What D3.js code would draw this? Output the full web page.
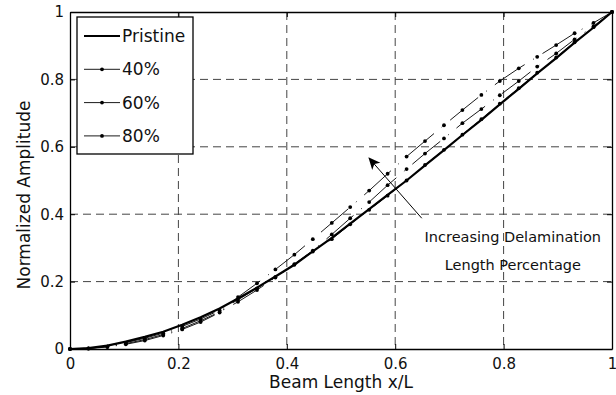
<!DOCTYPE html>
<html>
<head>
<meta charset="utf-8">
<script src="https://cdn.jsdelivr.net/npm/d3@7"></script>
<style>
body { margin: 0; background: #fff; }
</style>
</head>
<body>
<svg class="amp" width="616" height="395"></svg>
<script>
// beam positions (x/L) of the sampled points
let xPos = [0, 0.034, 0.069, 0.103, 0.138, 0.172, 0.207, 0.241, 0.276, 0.310,
    0.345, 0.379, 0.414, 0.448, 0.483, 0.517, 0.552, 0.586, 0.621, 0.655,
    0.690, 0.724, 0.759, 0.793, 0.828, 0.862, 0.897, 0.931, 0.966, 1];

let pristine = [0, 0.003, 0.010, 0.022, 0.036, 0.051, 0.072, 0.094, 0.120, 0.150,
    0.182, 0.215, 0.250, 0.290, 0.330, 0.372, 0.415, 0.457, 0.500, 0.545,
    0.590, 0.635, 0.680, 0.726, 0.772, 0.818, 0.863, 0.909, 0.954, 1];
let pct40 = [0, 0.002, 0.008, 0.019, 0.032, 0.047, 0.067, 0.089, 0.115, 0.146,
    0.180, 0.214, 0.250, 0.289, 0.326, 0.370, 0.413, 0.455, 0.500, 0.546,
    0.591, 0.636, 0.682, 0.728, 0.774, 0.820, 0.865, 0.910, 0.955, 1];
let pct60 = [0, 0.002, 0.007, 0.016, 0.028, 0.043, 0.061, 0.084, 0.110, 0.140,
    0.175, 0.212, 0.252, 0.292, 0.340, 0.388, 0.436, 0.486, 0.534, 0.580,
    0.625, 0.670, 0.712, 0.753, 0.795, 0.838, 0.877, 0.919, 0.958, 1];
let pct80 = [0, 0.001, 0.006, 0.014, 0.025, 0.040, 0.058, 0.080, 0.108, 0.154,
    0.195, 0.236, 0.280, 0.326, 0.374, 0.421, 0.470, 0.520, 0.571, 0.617,
    0.664, 0.709, 0.754, 0.795, 0.833, 0.867, 0.902, 0.937, 0.968, 1];

let seriesNames = ["Pristine", "40%", "60%", "80%"];
let xTicks = [0, 0.2, 0.4, 0.6, 0.8, 1];
let yTicks = [0, 0.2, 0.4, 0.6, 0.8, 1];

// arrow annotation: tail and head in data units
let arrowTail = [0.649, 0.388];
let arrowHead = [0.552, 0.566];
let noteLines = ["Increasing Delamination", "Length Percentage"];
let notePos = [0.817, 0.318];

let fontStack = "'DejaVu Sans', sans-serif";

let svg = d3.select("svg.amp"),
    margin = {top: 12, bottom: 46, left: 70, right: 4},
    width = svg.attr("width") - margin.left - margin.right,
    height = svg.attr("height") - margin.top - margin.bottom;

let g = svg.append("g")
    .attr("transform", "translate(" + margin.left + "," + margin.top + ")");

let xScale = d3.scaleLinear().domain([0, 1]).range([0, width]);
let yScale = d3.scaleLinear().domain([0, 1]).range([height, 0]);

// grid
g.append("g")
    .selectAll("line")
    .data(xTicks.slice(1, -1))
    .join("line")
    .attr("x1", d => xScale(d)).attr("x2", d => xScale(d))
    .attr("y1", 0).attr("y2", height)
    .attr("stroke", "#444").attr("stroke-width", 1)
    .attr("stroke-dasharray", "8,5");
g.append("g")
    .selectAll("line")
    .data(yTicks.slice(1, -1))
    .join("line")
    .attr("y1", d => yScale(d)).attr("y2", d => yScale(d))
    .attr("x1", 0).attr("x2", width)
    .attr("stroke", "#444").attr("stroke-width", 1)
    .attr("stroke-dasharray", "8,5");

// axes (ticks inward)
g.append("g")
    .attr("transform", "translate(0," + height + ")")
    .call(d3.axisBottom(xScale).tickValues(xTicks).tickFormat(d3.format("")).tickSizeInner(-5).tickSizeOuter(0).tickPadding(9));
g.append("g")
    .call(d3.axisLeft(yScale).tickValues(yTicks).tickFormat(d3.format("")).tickSizeInner(-5).tickSizeOuter(0).tickPadding(6));
g.append("g")
    .call(d3.axisTop(xScale).tickValues(xTicks).tickFormat("").tickSizeInner(-5).tickSizeOuter(0));
g.append("g")
    .attr("transform", "translate(" + width + ",0)")
    .call(d3.axisRight(yScale).tickValues(yTicks).tickFormat("").tickSizeInner(-5).tickSizeOuter(0));
g.selectAll(".domain").attr("stroke", "#000").attr("stroke-width", 1.3);
g.selectAll(".tick line").attr("stroke", "#000");
g.selectAll(".tick text").attr("font-size", "15px").attr("fill", "#111")
    .attr("font-family", fontStack);

// axis labels
svg.append("text")
    .attr("x", margin.left + width / 2)
    .attr("y", 388)
    .attr("text-anchor", "middle")
    .attr("font-family", fontStack)
    .attr("font-size", "17px")
    .attr("fill", "#111")
    .text("Beam Length x/L");
svg.append("text")
    .attr("transform", "translate(30," + 195 + ") rotate(-90)")
    .attr("text-anchor", "middle")
    .attr("font-family", fontStack)
    .attr("font-size", "17px")
    .attr("fill", "#111")
    .text("Normalized Amplitude");

let line = d3.line()
    .x(d => xScale(d[0]))
    .y(d => yScale(d[1]));

let marked = [pct40, pct60, pct80];
marked.forEach(vals => {
    let pts = xPos.map((x, i) => [x, vals[i]]);
    g.append("path")
        .datum(pts)
        .attr("fill", "none")
        .attr("stroke", "#000")
        .attr("stroke-width", 0.9)
        .attr("stroke-dasharray", "36,10,1,10")
        .attr("d", line);
    g.append("g")
        .selectAll("circle")
        .data(pts)
        .join("circle")
        .attr("cx", d => xScale(d[0]))
        .attr("cy", d => yScale(d[1]))
        .attr("r", 1.9)
        .attr("fill", "#000");
});

g.append("path")
    .datum(xPos.map((x, i) => [x, pristine[i]]))
    .attr("fill", "none")
    .attr("stroke", "#000")
    .attr("stroke-width", 2.2)
    .attr("d", line);

// arrow
svg.append("defs").append("marker")
    .attr("id", "head")
    .attr("viewBox", "0 0 10 10")
    .attr("refX", 9).attr("refY", 5)
    .attr("markerWidth", 12).attr("markerHeight", 12)
    .attr("markerUnits", "userSpaceOnUse")
    .attr("orient", "auto")
    .append("path")
    .attr("d", "M0,0.5 L10,5 L0,9.5 L2.5,5 Z")
    .attr("fill", "#000");
g.append("line")
    .attr("x1", xScale(arrowTail[0])).attr("y1", yScale(arrowTail[1]))
    .attr("x2", xScale(arrowHead[0])).attr("y2", yScale(arrowHead[1]))
    .attr("stroke", "#000").attr("stroke-width", 1)
    .attr("marker-end", "url(#head)");
g.append("g")
    .selectAll("text")
    .data(noteLines)
    .join("text")
    .attr("x", xScale(notePos[0]))
    .attr("y", (d, i) => yScale(notePos[1]) + i * 28)
    .attr("text-anchor", "middle")
    .attr("font-family", fontStack)
    .attr("font-size", "14.5px")
    .attr("fill", "#111")
    .text(d => d);

// legend
let legend = svg.append("g").attr("transform", "translate(77,17)");
legend.append("rect")
    .attr("width", 116).attr("height", 137)
    .attr("fill", "#fff").attr("stroke", "#000").attr("stroke-width", 1.3);
let items = legend.selectAll("g.item")
    .data(seriesNames)
    .join("g")
    .attr("class", "item")
    .attr("transform", (d, i) => "translate(0," + (19 + i * 33.3) + ")");
items.append("line")
    .attr("x1", 7).attr("x2", 43)
    .attr("stroke", "#000")
    .attr("stroke-width", (d, i) => i === 0 ? 2.2 : 0.9);
items.filter((d, i) => i > 0).append("circle")
    .attr("cx", 25).attr("r", 1.9).attr("fill", "#000");
items.append("text")
    .attr("x", 45).attr("y", 6)
    .attr("font-family", fontStack)
    .attr("font-size", "17px")
    .attr("fill", "#111")
    .text(d => d);
</script>
</body>
</html>
